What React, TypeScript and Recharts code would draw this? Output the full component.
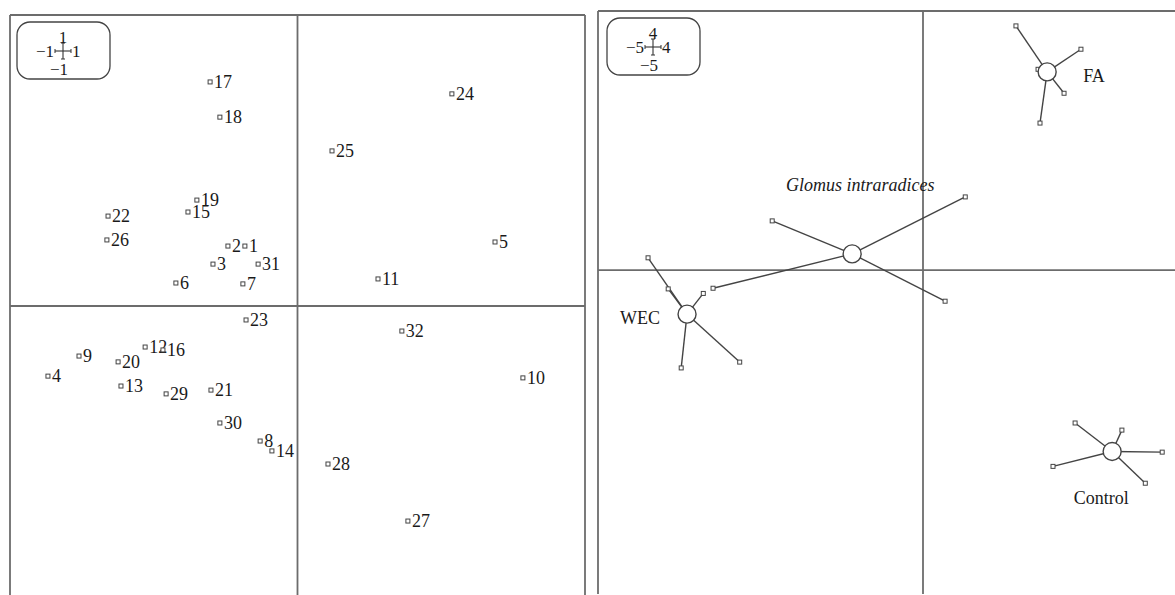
import { ScatterChart, Scatter, XAxis, YAxis, ReferenceLine } from 'recharts';

// left panel: sample scores (1..32)
const sampleIds = ['1', '2', '3', '4', '5', '6', '7', '8', '9', '10', '11', '12', '13', '14', '15', '16',
  '17', '18', '19', '20', '21', '22', '23', '24', '25', '26', '27', '28', '29', '30', '31', '32'];
const sampleX = [-0.183, -0.242, -0.294, -0.868, 0.687, -0.423, -0.19, -0.13, -0.76, 0.784, 0.28, -0.53, -0.614, -0.089, -0.381, -0.468,
  -0.304, -0.27, -0.35, -0.624, -0.301, -0.659, -0.179, 0.537, 0.12, -0.663, 0.384, 0.106, -0.457, -0.27, -0.137, 0.363];
const sampleY = [0.206, 0.206, 0.144, -0.241, 0.22, 0.079, 0.076, -0.464, -0.172, -0.247, 0.093, -0.141, -0.275, -0.498, 0.323, -0.151,
  0.77, 0.649, 0.364, -0.192, -0.289, 0.309, -0.048, 0.729, 0.533, 0.227, -0.739, -0.543, -0.302, -0.402, 0.144, -0.086];

// right panel: treatment centroids and their members
const groupNames = ['Glomus intraradices', 'WEC', 'FA', 'Control'];
const centerX = [-1.09, -3.63, 1.91, 2.91];
const centerY = [0.25, -0.68, 3.06, -2.8];
const glomusX = [-2.32, -3.23, 0.65, 0.34];
const glomusY = [0.76, -0.28, 1.13, -0.48];
const wecX = [-4.23, -3.92, -3.38, -2.82, -3.72];
const wecY = [0.19, -0.29, -0.36, -1.42, -1.51];
const faX = [1.43, 2.43, 2.17, 1.8, 1.77];
const faY = [3.77, 3.41, 2.73, 2.27, 3.1];
const controlX = [2.34, 3.06, 3.68, 3.42, 2.0];
const controlY = [-2.36, -2.47, -2.81, -3.29, -3.03];

const memberX = [glomusX, wecX, faX, controlX];
const memberY = [glomusY, wecY, faY, controlY];

const sampleData = sampleIds.map((id, i) => ({ id, x: sampleX[i], y: sampleY[i] }));
const centerData = groupNames.map((name, i) => ({ name, x: centerX[i], y: centerY[i] }));
const memberData = memberX.flatMap((xs, g) => xs.map((x, j) => ({ x, y: memberY[g][j], g })));
const spokes = memberData.map(m => ({ from: { x: centerX[m.g], y: centerY[m.g] }, to: { x: m.x, y: m.y } }));

const SERIF = "'Liberation Serif', 'Times New Roman', 'DejaVu Serif', serif";
const FRAME = '#6c6c6c';
const INK = '#1a1a1a';

// where each group label sits relative to its centroid
const labelPos: Record<string, { dx: number; dy: number; anchor: string; italic?: boolean }> = {
  'Glomus intraradices': { dx: 8, dy: -63, anchor: 'middle', italic: true },
  WEC: { dx: -27, dy: 10, anchor: 'end' },
  FA: { dx: 36, dy: 10, anchor: 'start' },
  Control: { dx: -11, dy: 53, anchor: 'middle' },
};

function SampleDot(props: any) {
  const { cx, cy, payload } = props;
  return (
    <g>
      <rect x={cx - 2} y={cy - 2} width={4} height={4} fill="#fff" stroke="#444" strokeWidth={1} />
      <text x={cx + 4} y={cy + 6} fill={INK} style={{ fontFamily: SERIF, fontSize: 18 }}>{payload.id}</text>
    </g>
  );
}

function MemberDot(props: any) {
  const { cx, cy } = props;
  return <rect x={cx - 2} y={cy - 2} width={4} height={4} fill="#fff" stroke="#444" strokeWidth={1} />;
}

function CenterDot(props: any) {
  const { cx, cy, payload } = props;
  const p = labelPos[payload.name];
  return (
    <g>
      <circle cx={cx} cy={cy} r={9} fill="#fff" stroke="#444" strokeWidth={1.4} />
      <text x={cx + p.dx} y={cy + p.dy} textAnchor={p.anchor as any} fill={INK}
        style={{ fontFamily: SERIF, fontSize: 18, fontStyle: p.italic ? 'italic' : 'normal' }}>{payload.name}</text>
    </g>
  );
}

function ScaleBox({ x, y, lo, hi }: { x: number; y: number; lo: string; hi: string }) {
  const cx = x + 46, cy = y + 29;
  const t = { fontFamily: SERIF, fontSize: 17 };
  return (
    <g fill={INK}>
      <rect x={x} y={y} width={93} height={57} rx={13} fill="#fff" stroke="#444" strokeWidth={1.3} />
      <line x1={cx - 8} y1={cy} x2={cx + 8} y2={cy} stroke="#333" strokeWidth={1.1} />
      <line x1={cx} y1={cy - 8} x2={cx} y2={cy + 8} stroke="#333" strokeWidth={1.1} />
      <line x1={cx - 8} y1={cy - 2} x2={cx - 8} y2={cy + 2} stroke="#333" strokeWidth={1} />
      <line x1={cx + 8} y1={cy - 2} x2={cx + 8} y2={cy + 2} stroke="#333" strokeWidth={1} />
      <line x1={cx - 2} y1={cy - 8} x2={cx + 2} y2={cy - 8} stroke="#333" strokeWidth={1} />
      <line x1={cx - 2} y1={cy + 8} x2={cx + 2} y2={cy + 8} stroke="#333" strokeWidth={1} />
      <text x={cx} y={cy - 8} textAnchor="middle" style={t}>{hi}</text>
      <text x={cx - 9} y={cy + 6} textAnchor="end" style={t}>{lo}</text>
      <text x={cx + 9} y={cy + 6} textAnchor="start" style={t}>{hi}</text>
      <text x={cx - 4} y={cy + 24} textAnchor="middle" style={t}>{lo}</text>
    </g>
  );
}

export default function App() {
  return (
    <div style={{ position: 'absolute', left: 0, top: 0, width: 1175, height: 595, overflow: 'hidden', background: '#fff' }}>
      <div style={{ position: 'absolute', left: 0, top: 0 }}>
        <ScatterChart width={592} height={610} margin={{ top: 15, right: 7, bottom: 13, left: 10 }}>
          <XAxis type="number" dataKey="x" domain={[-1, 1]} hide allowDataOverflow />
          <YAxis type="number" dataKey="y" domain={[-1, 1]} hide allowDataOverflow />
          <ReferenceLine x={-1} stroke={FRAME} strokeWidth={1.8} />
          <ReferenceLine x={1} stroke={FRAME} strokeWidth={1.8} />
          <ReferenceLine y={1} stroke={FRAME} strokeWidth={1.8} />
          <ReferenceLine x={0} stroke={FRAME} strokeWidth={1.8} />
          <ReferenceLine y={0} stroke={FRAME} strokeWidth={1.8} />
          <Scatter data={sampleData} shape={SampleDot} isAnimationActive={false} />
        </ScatterChart>
      </div>
      <div style={{ position: 'absolute', left: 590, top: 0 }}>
        <ScatterChart width={600} height={610} margin={{ top: 11, right: 7, bottom: 16, left: 8 }}>
          <XAxis type="number" dataKey="x" domain={[-5, 4]} hide allowDataOverflow />
          <YAxis type="number" dataKey="y" domain={[-5, 4]} hide allowDataOverflow />
          <ReferenceLine x={-5} stroke={FRAME} strokeWidth={1.8} />
          <ReferenceLine y={4} stroke={FRAME} strokeWidth={1.8} />
          <ReferenceLine x={0} stroke={FRAME} strokeWidth={1.8} />
          <ReferenceLine y={0} stroke={FRAME} strokeWidth={1.8} />
          {spokes.map((s, i) => (
            <ReferenceLine key={i} segment={[s.from, s.to]} stroke="#444" strokeWidth={1.4} />
          ))}
          <Scatter data={memberData} shape={MemberDot} isAnimationActive={false} />
          <Scatter data={centerData} shape={CenterDot} isAnimationActive={false} />
        </ScatterChart>
      </div>
      <svg width={1175} height={595} style={{ position: 'absolute', left: 0, top: 0, pointerEvents: 'none' }}>
        <ScaleBox x={17} y={22} lo="−1" hi="1" />
        <ScaleBox x={607} y={18} lo="−5" hi="4" />
      </svg>
    </div>
  );
}
